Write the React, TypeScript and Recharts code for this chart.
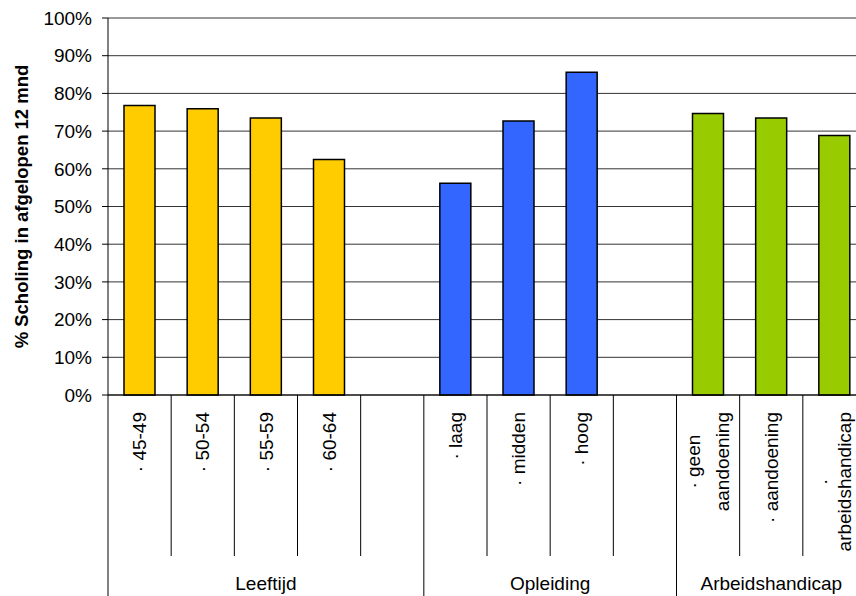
import { BarChart, Bar, XAxis, YAxis, CartesianGrid, Cell } from 'recharts';

const FONT = '"Liberation Sans", Arial, sans-serif';
const VIEW_W = 856;

// one slot per category, empty slots separate the groups
const labels = [
  '· 45-49', '· 50-54', '· 55-59', '· 60-64', '',
  '· laag', '· midden', '· hoog', '',
  '· geen\naandoening', '· aandoening', '·\narbeidshandicap',
];
const values = [0.768, 0.759, 0.735, 0.625, null, 0.562, 0.727, 0.856, null, 0.747, 0.735, 0.688];

const groups = [
  { name: 'Leeftijd', start: 0, count: 5, color: '#FFCC00' },
  { name: 'Opleiding', start: 5, count: 4, color: '#3366FF' },
  { name: 'Arbeidshandicap', start: 9, count: 3, color: '#99CC00' },
];

const yTicks = [0, 0.1, 0.2, 0.3, 0.4, 0.5, 0.6, 0.7, 0.8, 0.9, 1];

const data = labels.map((label, i) => ({ slot: i, label, value: values[i] }));

const groupOf = (i: number) => groups.find((g) => i >= g.start && i < g.start + g.count)!;

let ctx: CanvasRenderingContext2D | null = null;
const measure = (s: string, size: number) => {
  if (!ctx) ctx = document.createElement('canvas').getContext('2d');
  if (!ctx) return s.length * size * 0.55;
  ctx.font = `${size}px "Liberation Sans", Arial, sans-serif`;
  return ctx.measureText(s).width;
};

const CategoryTick = (props: any) => {
  const { x, y, payload, index, width, visibleTicksCount } = props;
  let half = payload?.offset > 0 ? payload.offset : width / (visibleTicksCount || 12) / 2;
  if (!half || isNaN(half)) half = 31.5;
  const left = x - half;
  const group = groups.find((g) => g.start === index);
  const lines = (labels[index] ?? '').split('\n').filter((l, i, arr) => arr.length > 1 || l !== '');
  const longest = Math.max(0, ...lines.map((l) => measure(l, 19)));
  const cy = y + 17 + longest / 2;
  // keep wrapped labels inside the visible page
  const lineH = Math.min(29, 2 * (VIEW_W - 12 - x));

  return (
    <g>
      <line x1={left} y1={y} x2={left} y2={y + (group ? 201 : 161)} stroke="#000" strokeWidth={1} />
      {index === labels.length - 1 && (
        <line x1={x + half} y1={y} x2={x + half} y2={y + 201} stroke="#000" strokeWidth={1} />
      )}
      {lines.map((line, i) => (
        <text
          key={i}
          transform={`translate(${x + (i - (lines.length - 1) / 2) * lineH}, ${cy}) rotate(-90)`}
          textAnchor="middle"
          dy="0.35em"
          fontSize={19}
          fontFamily={FONT}
          fill="#000"
        >
          {line}
        </text>
      ))}
      {group && (
        <text x={left + group.count * half} y={y + 195} textAnchor="middle" fontSize={19} fontFamily={FONT} fill="#000">
          {group.name}
        </text>
      )}
    </g>
  );
};

const YLabel = (props: any) => {
  const vb = props.viewBox ?? { y: 18, height: 377 };
  const cy = vb.y + vb.height / 2;
  return (
    <text
      transform={`translate(22, ${cy}) rotate(-90)`}
      textAnchor="middle"
      dy="0.35em"
      fontSize={18.5}
      fontWeight="bold"
      fontFamily={FONT}
      fill="#000"
    >
      % Scholing in afgelopen 12 mnd
    </text>
  );
};

export default function App() {
  return (
    <div style={{ position: 'fixed', left: 0, top: 0, width: VIEW_W, height: 596, overflow: 'hidden', background: '#fff' }}>
      <style>{'body{margin:0;overflow:hidden}'}</style>
      <BarChart width={868} height={596} data={data} margin={{ top: 18, right: 2, left: 0, bottom: 0 }}>
        <CartesianGrid vertical={false} stroke="#333" />
        <XAxis
          dataKey="slot"
          type="category"
          interval={0}
          height={201}
          tickLine={false}
          tickSize={0}
          tickMargin={0}
          axisLine={{ stroke: '#000' }}
          tick={(p: any) => <CategoryTick {...p} />}
        />
        <YAxis
          domain={[0, 1]}
          ticks={yTicks}
          interval={0}
          width={108}
          tickSize={6}
          tickMargin={10}
          tickFormatter={(v: number) => `${Math.round(v * 100)}%`}
          axisLine={{ stroke: '#000' }}
          tickLine={{ stroke: '#000' }}
          tick={{ fill: '#000', fontSize: 19, fontFamily: FONT }}
          label={(p: any) => <YLabel {...p} />}
        />
        <Bar dataKey="value" barSize={31} stroke="#000" strokeWidth={1.5} isAnimationActive={false}>
          {data.map((d, i) => (
            <Cell key={`cell-${i}`} fill={groupOf(i).color} />
          ))}
        </Bar>
      </BarChart>
    </div>
  );
}
